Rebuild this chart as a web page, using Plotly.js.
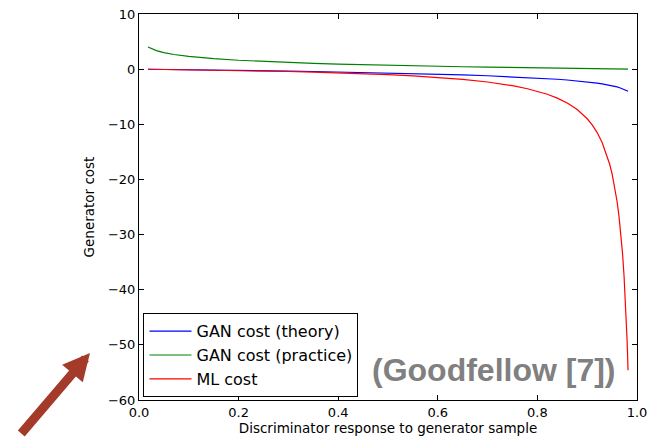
<!DOCTYPE html>
<html>
<head>
<meta charset="utf-8">
<script src="https://cdn.plot.ly/plotly-3.0.1.min.js"></script>
<style>html,body{margin:0;padding:0;background:#fff;}#chart{width:664px;height:440px;}</style>
</head>
<body>
<div id="chart"></div>
<script>
// Discriminator response (x) samples
const dResponse = [0.018, 0.025, 0.035, 0.05, 0.07, 0.1, 0.125, 0.15, 0.2, 0.25, 0.3, 0.35, 0.4, 0.45, 0.5, 0.55, 0.6, 0.65, 0.7, 0.75, 0.78, 0.8, 0.82, 0.84, 0.86, 0.88, 0.89, 0.9, 0.91, 0.92, 0.93, 0.94, 0.945, 0.95, 0.955, 0.96, 0.964, 0.968, 0.971, 0.974, 0.976, 0.978, 0.98, 0.981, 0.982];
// GAN cost (theory)
const ganTheory = [-0.02, -0.025, -0.036, -0.05, -0.07, -0.11, -0.13, -0.16, -0.22, -0.29, -0.36, -0.43, -0.51, -0.6, -0.69, -0.8, -0.92, -1.05, -1.2, -1.39, -1.51, -1.61, -1.71, -1.83, -1.97, -2.12, -2.21, -2.3, -2.41, -2.53, -2.66, -2.81, -2.9, -3.0, -3.1, -3.22, -3.32, -3.44, -3.54, -3.65, -3.73, -3.82, -3.91, -3.96, -4.02];
// GAN cost (practice)
const ganPractice = [4.02, 3.69, 3.35, 3.0, 2.66, 2.3, 2.08, 1.9, 1.61, 1.39, 1.2, 1.05, 0.92, 0.8, 0.69, 0.6, 0.51, 0.43, 0.36, 0.29, 0.25, 0.22, 0.2, 0.17, 0.15, 0.13, 0.12, 0.11, 0.09, 0.08, 0.07, 0.06, 0.057, 0.05, 0.046, 0.04, 0.037, 0.033, 0.029, 0.026, 0.024, 0.022, 0.02, 0.019, 0.018];
// ML cost
const mlCost = [-0.02, -0.026, -0.036, -0.05, -0.075, -0.11, -0.14, -0.18, -0.25, -0.33, -0.43, -0.54, -0.67, -0.82, -1.0, -1.22, -1.5, -1.86, -2.33, -3.0, -3.55, -4.0, -4.56, -5.25, -6.14, -7.33, -8.09, -9.0, -10.1, -11.5, -13.3, -15.7, -17.2, -19.0, -21.2, -24.0, -26.8, -30.3, -33.5, -37.5, -40.7, -44.5, -49.0, -51.6, -54.6];

const seriesNames = ["GAN cost (theory)", "GAN cost (practice)", "ML cost"];
const xTicks = [0.0, 0.2, 0.4, 0.6, 0.8, 1.0];
const yTicks = [-60, -50, -40, -30, -20, -10, 0, 10];

const font = "DejaVu Sans, sans-serif";
const traces = [
  {x: dResponse, y: ganTheory, name: seriesNames[0], mode: "lines", line: {color: "#0000ff", width: 1.2}},
  {x: dResponse, y: ganPractice, name: seriesNames[1], mode: "lines", line: {color: "#008000", width: 1.2}},
  {x: dResponse, y: mlCost, name: seriesNames[2], mode: "lines", line: {color: "#ff0000", width: 1.2}}
];

const axisCommon = {
  showgrid: false, zeroline: false, showline: true, linecolor: "#000", linewidth: 1,
  mirror: "ticks", ticks: "inside", ticklen: 5, tickcolor: "#000", tickwidth: 1,
  tickfont: {family: font, size: 13, color: "#000"}
};

const layout = {
  width: 664, height: 440,
  margin: {l: 139, r: 27, t: 14, b: 40},
  paper_bgcolor: "#fff", plot_bgcolor: "#fff",
  font: {family: font, color: "#000"},
  xaxis: Object.assign({}, axisCommon, {
    range: [0, 1], tickvals: xTicks, tickformat: ".1f",
    title: {text: "Discriminator response to generator sample", font: {family: font, size: 13.5}, standoff: 3}
  }),
  yaxis: Object.assign({}, axisCommon, {
    range: [-60, 10], tickvals: yTicks,
    title: {text: "Generator cost", font: {family: font, size: 13.5}, standoff: 10}
  }),
  showlegend: true,
  legend: {
    x: 0.009, y: 0.007, xanchor: "left", yanchor: "bottom",
    bgcolor: "#fff", bordercolor: "#000", borderwidth: 1,
    font: {family: font, size: 16, color: "#000"},
    itemwidth: 42, tracegroupgap: 0
  },
  annotations: [
    {xref: "paper", yref: "paper", x: 0.713, y: 0.078, xanchor: "center", yanchor: "middle",
     text: "<b>(Goodfellow [7])</b>", showarrow: false,
     font: {family: "Liberation Sans, Arial, sans-serif", size: 32, color: "#808080"}},
    {xref: "paper", yref: "paper", x: (90 - 139) / 498, y: (400 - 353) / 386, text: "",
     showarrow: true, ax: -70, ay: 82, arrowcolor: "#a33a2a", arrowwidth: 9, arrowhead: 2, arrowsize: 0.6}
  ]
};

Plotly.newPlot("chart", traces, layout, {displayModeBar: false, staticPlot: true});
</script>
</body>
</html>
